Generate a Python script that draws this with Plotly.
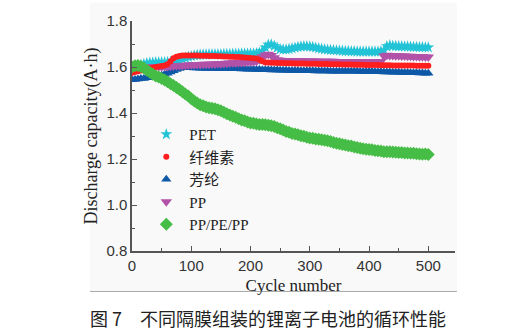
import plotly.graph_objects as go

# Cycle index of each sample (every 5th cycle)
cycles = list(range(0, 501, 5))

# Discharge capacity (A·h) per separator
pet = [1.600, 1.603, 1.606, 1.610, 1.613, 1.616, 1.618, 1.619, 1.620, 1.620,
       1.620, 1.620, 1.621, 1.622, 1.624, 1.627, 1.630, 1.635, 1.640, 1.644,
       1.647, 1.650, 1.652, 1.653, 1.654, 1.654, 1.655, 1.655, 1.655, 1.655,
       1.655, 1.656, 1.656, 1.656, 1.657, 1.657, 1.657, 1.658, 1.658, 1.658,
       1.659, 1.659, 1.660, 1.662, 1.670, 1.685, 1.697, 1.698, 1.692, 1.684,
       1.677, 1.676, 1.676, 1.678, 1.681, 1.684, 1.687, 1.689, 1.690, 1.690,
       1.689, 1.687, 1.684, 1.681, 1.679, 1.677, 1.675, 1.674, 1.673, 1.672,
       1.671, 1.670, 1.669, 1.669, 1.668, 1.668, 1.667, 1.667, 1.667, 1.667,
       1.667, 1.667, 1.667, 1.667, 1.668, 1.672, 1.690, 1.694, 1.692, 1.691,
       1.690, 1.690, 1.689, 1.689, 1.688, 1.687, 1.687, 1.686, 1.686, 1.685,
       1.685]

cellulose = [1.575, 1.578, 1.582, 1.585, 1.588, 1.591, 1.594, 1.597, 1.600, 1.602,
             1.604, 1.607, 1.612, 1.625, 1.638, 1.645, 1.648, 1.650, 1.650, 1.650,
             1.650, 1.650, 1.650, 1.649, 1.649, 1.649, 1.648, 1.648, 1.648, 1.647,
             1.647, 1.646, 1.646, 1.645, 1.645, 1.644, 1.643, 1.642, 1.641, 1.640,
             1.639, 1.638, 1.637, 1.632, 1.625, 1.620, 1.620, 1.618, 1.618, 1.617,
             1.617, 1.617, 1.616, 1.616, 1.616, 1.615, 1.615, 1.615, 1.615, 1.614,
             1.614, 1.614, 1.614, 1.613, 1.613, 1.613, 1.613, 1.612, 1.612, 1.612,
             1.612, 1.611, 1.611, 1.611, 1.611, 1.610, 1.610, 1.610, 1.610, 1.609,
             1.609, 1.609, 1.609, 1.609, 1.608, 1.608, 1.608, 1.608, 1.607, 1.607,
             1.607, 1.607, 1.606, 1.606, 1.606, 1.606, 1.605, 1.605, 1.605, 1.605,
             1.605]

aramid = [1.545, 1.546, 1.548, 1.550, 1.550, 1.553, 1.554, 1.556, 1.558, 1.561,
          1.564, 1.568, 1.573, 1.578, 1.584, 1.589, 1.594, 1.597, 1.598, 1.598,
          1.597, 1.596, 1.596, 1.595, 1.595, 1.594, 1.595, 1.594, 1.594, 1.593,
          1.593, 1.594, 1.593, 1.592, 1.593, 1.592, 1.592, 1.591, 1.591, 1.590,
          1.590, 1.590, 1.589, 1.589, 1.588, 1.588, 1.588, 1.587, 1.587, 1.587,
          1.586, 1.586, 1.586, 1.585, 1.585, 1.585, 1.585, 1.584, 1.584, 1.584,
          1.584, 1.584, 1.583, 1.583, 1.583, 1.583, 1.583, 1.582, 1.582, 1.582,
          1.582, 1.582, 1.582, 1.581, 1.581, 1.581, 1.581, 1.580, 1.580, 1.580,
          1.580, 1.580, 1.579, 1.579, 1.579, 1.578, 1.578, 1.578, 1.577, 1.577,
          1.577, 1.576, 1.576, 1.576, 1.575, 1.575, 1.575, 1.574, 1.574, 1.573,
          1.573]

pp = [1.600, 1.601, 1.601, 1.600, 1.600, 1.600, 1.600, 1.600, 1.601, 1.601,
      1.601, 1.602, 1.602, 1.603, 1.604, 1.605, 1.606, 1.607, 1.608, 1.609,
      1.610, 1.610, 1.611, 1.611, 1.612, 1.612, 1.612, 1.613, 1.613, 1.614,
      1.614, 1.615, 1.616, 1.617, 1.618, 1.619, 1.620, 1.620, 1.621, 1.622,
      1.622, 1.623, 1.625, 1.632, 1.645, 1.652, 1.655, 1.650, 1.640, 1.632,
      1.629, 1.628, 1.628, 1.628, 1.627, 1.627, 1.627, 1.627, 1.626, 1.626,
      1.626, 1.626, 1.626, 1.625, 1.625, 1.625, 1.625, 1.625, 1.625, 1.624,
      1.624, 1.624, 1.624, 1.624, 1.624, 1.624, 1.624, 1.623, 1.623, 1.623,
      1.623, 1.623, 1.623, 1.623, 1.624, 1.648, 1.651, 1.650, 1.650, 1.649,
      1.649, 1.648, 1.648, 1.647, 1.647, 1.646, 1.646, 1.645, 1.645, 1.644,
      1.644]

pp_pe_pp = [1.600, 1.605, 1.606, 1.602, 1.596, 1.586, 1.577, 1.568, 1.561, 1.556,
            1.550, 1.543, 1.536, 1.527, 1.520, 1.511, 1.502, 1.492, 1.483, 1.474,
            1.462, 1.452, 1.443, 1.436, 1.431, 1.426, 1.423, 1.421, 1.419, 1.414,
            1.410, 1.403, 1.397, 1.391, 1.386, 1.381, 1.375, 1.370, 1.366, 1.361,
            1.357, 1.355, 1.352, 1.350, 1.350, 1.349, 1.347, 1.345, 1.341, 1.336,
            1.331, 1.326, 1.320, 1.316, 1.311, 1.309, 1.305, 1.301, 1.299, 1.295,
            1.291, 1.290, 1.287, 1.286, 1.284, 1.282, 1.279, 1.276, 1.272, 1.268,
            1.266, 1.263, 1.261, 1.258, 1.256, 1.252, 1.250, 1.247, 1.245, 1.242,
            1.241, 1.240, 1.237, 1.236, 1.235, 1.232, 1.231, 1.231, 1.230, 1.229,
            1.228, 1.228, 1.226, 1.226, 1.225, 1.225, 1.223, 1.222, 1.221, 1.222,
            1.220]

series_names = ["PET", "纤维素", "芳纶", "PP", "PP/PE/PP"]
xticks = [0, 100, 200, 300, 400, 500]
yticks = [0.8, 1.0, 1.2, 1.4, 1.6, 1.8]

styles = {
    "PET": dict(symbol="star", color="#22c3d6", size=9),
    "纤维素": dict(symbol="circle", color="#ff1e1e", size=6),
    "芳纶": dict(symbol="triangle-up", color="#0e58a8", size=9),
    "PP": dict(symbol="triangle-down", color="#b152a8", size=10),
    "PP/PE/PP": dict(symbol="diamond", color="#46bd46", size=10),
}
values = {"PET": pet, "纤维素": cellulose, "芳纶": aramid, "PP": pp, "PP/PE/PP": pp_pe_pp}
draw_order = ["PET", "芳纶", "PP", "纤维素", "PP/PE/PP"]

fig = go.Figure()
for name in draw_order:
    st = styles[name]
    fig.add_trace(go.Scatter(
        x=cycles, y=values[name], name=name, mode="markers",
        legendrank=series_names.index(name) + 1,
        marker=dict(symbol=st["symbol"], color=st["color"], size=st["size"],
                    line=dict(width=0)),
    ))

axis_color = "#555555"
serif = "'Liberation Serif', 'Times New Roman', 'Noto Sans CJK SC', serif"
common_axis = dict(
    showline=True, linecolor=axis_color, linewidth=1.5, mirror=False,
    ticks="inside", ticklen=5, tickwidth=1.2, tickcolor=axis_color,
    showgrid=False, zeroline=False,
    tickfont=dict(family="'Liberation Sans', Arial, sans-serif", size=15, color="#333333"),
)

fig.update_layout(
    width=517, height=334,
    margin=dict(l=132, r=62, t=18, b=83),
    paper_bgcolor="white",
    plot_bgcolor="rgba(0,0,0,0)",
    showlegend=True,
    legend=dict(
        x=0.035, y=0.578, xanchor="left", yanchor="top",
        bgcolor="rgba(0,0,0,0)", borderwidth=0,
        font=dict(family=serif, size=15, color="#222222"),
        tracegroupgap=0, itemwidth=36, itemsizing="trace",
    ),
    xaxis=dict(
        range=[0, 545], tickvals=xticks,
        minor=dict(dtick=50, ticks="inside", ticklen=3, tickcolor=axis_color),
        title=dict(text="Cycle number", standoff=6,
                   font=dict(family=serif, size=17, color="#222222")),
        **common_axis,
    ),
    yaxis=dict(
        range=[0.8, 1.8], tickvals=yticks, tickformat=".1f",
        minor=dict(dtick=0.1, ticks="inside", ticklen=3, tickcolor=axis_color),
        title=dict(text="Discharge capacity(A·h)", standoff=4,
                   font=dict(family=serif, size=18, color="#222222")),
        **common_axis,
    ),
    shapes=[
        dict(type="rect", xref="paper", yref="paper", x0=-0.13, x1=1.006, y0=-0.176, y1=1.08,
             fillcolor="#f9f9f9", line=dict(width=0), layer="below"),
        dict(type="line", xref="paper", yref="paper", x0=-0.13, x1=1.006, y0=-0.176, y1=-0.176,
             line=dict(color="#aaaaaa", width=1)),
    ],
    annotations=[
        dict(text="图 7", xref="paper", yref="paper", x=-0.136, y=-0.293,
             xanchor="left", yanchor="middle", showarrow=False,
             font=dict(family="Noto Sans CJK SC", size=18, color="#222222")),
        dict(text="不同隔膜组装的锂离子电池的循环性能", xref="paper", yref="paper",
             x=0.018, y=-0.293, xanchor="left", yanchor="middle", showarrow=False,
             font=dict(family="Noto Sans CJK SC", size=18, color="#222222")),
    ],
)

fig.write_html("out.html")
